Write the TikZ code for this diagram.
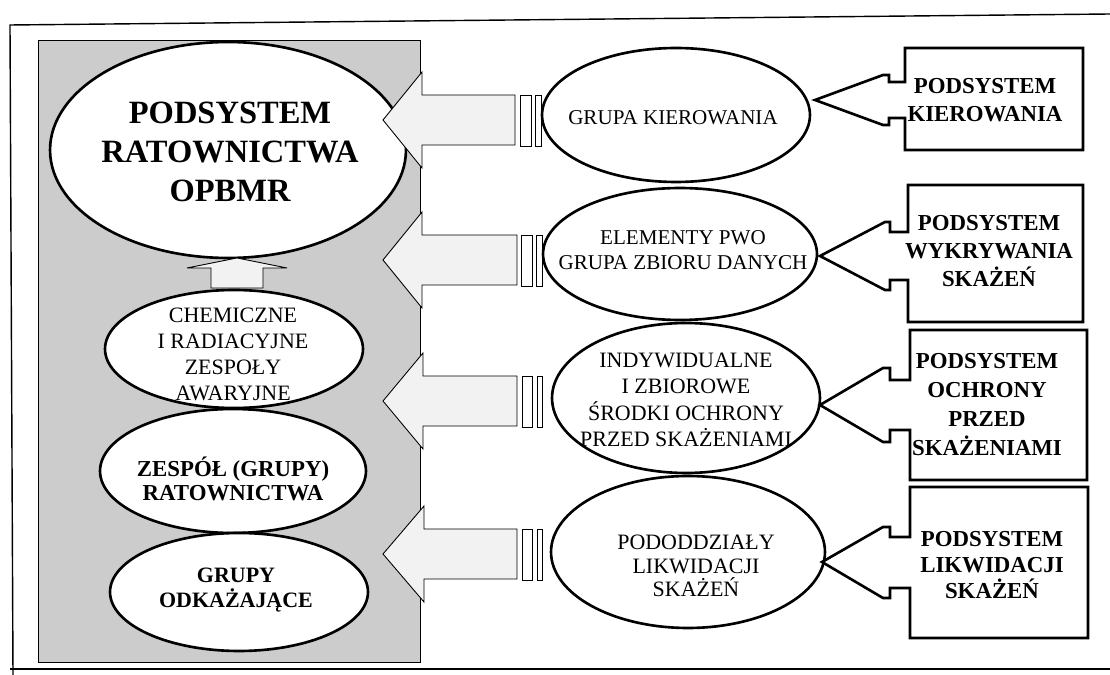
\documentclass[tikz,border=0pt]{standalone}
\usepackage{fontspec}
\setmainfont{Liberation Serif}

\tikzset{
  oval/.style={line width=1.5pt,fill=white},
  bigarr/.style={line width=0.5pt,fill=black!5},
  bar/.style={line width=0.5pt,fill=white},
  boxarr/.style={line width=1.5pt,fill=white,line join=miter},
  lab/.style={align=center,inner sep=0pt,font=\fontsize{12}{14.5}\selectfont},
  blab/.style={align=center,inner sep=0pt,font=\bfseries\fontsize{13}{16}\selectfont},
}

\begin{document}
\begin{tikzpicture}[x=0.02cm,y=-0.02cm]
\useasboundingbox (0,0) rectangle (1110,675);
% frame and gray panel
\draw[line width=0.8pt] (1110,14) -- (10,25) -- (13,675);
\draw[line width=1pt] (10,669) -- (1110,669);
\draw[line width=0.5pt,fill=black!20] (38,40) rectangle (420,662);

% left column
\draw[oval] (228,150) ellipse (3.56cm and 2.16cm);
\node[align=center,inner sep=0pt,font=\bfseries\fontsize{18.5}{22}\selectfont] (ratown) at (230,152) {PODSYSTEM\\RATOWNICTWA\\OPBMR};
\draw[bigarr] (237,258) -- (287,268) -- (263,268) -- (263,288) -- (211,288) -- (211,268) -- (187,268) -- cycle;
\draw[oval] (234,349) ellipse (2.58cm and 1.18cm);
\node[lab,font=\fontsize{12.5}{14.8}\selectfont] (chem) at (233,354) {CHEMICZNE\\I RADIACYJNE\\ZESPOŁY\\AWARYJNE};
\draw[oval] (233,471) ellipse (2.66cm and 1.24cm);
\node[blab,font=\bfseries\fontsize{13}{13.8}\selectfont] (zesp) at (233,479) {ZESPÓŁ (GRUPY)\\RATOWNICTWA};
\draw[oval] (239,592) ellipse (2.58cm and 1.18cm);
\node[blab,font=\bfseries\fontsize{12.5}{14}\selectfont] (odkaz) at (236,590) {GRUPY\\ODKAŻAJĄCE};

% big arrows into the panel
\draw[bigarr] (383,120) -- (422,72) -- (422,95) -- (515,95) -- (515,145) -- (422,145) -- (422,168) -- cycle;
\draw[bar] (520,95) rectangle (531,146); \draw[bar] (535,95) rectangle (541,146);
\draw[bigarr] (383,260) -- (422,212) -- (422,235) -- (517,235) -- (517,285) -- (422,285) -- (422,308) -- cycle;
\draw[bar] (521,235) rectangle (532,286); \draw[bar] (536,235) rectangle (542,286);
\draw[bigarr] (383,401) -- (423,353) -- (423,376) -- (517,376) -- (517,426) -- (423,426) -- (423,449) -- cycle;
\draw[bar] (522,376) rectangle (532,427); \draw[bar] (537,376) rectangle (542,427);
\draw[bigarr] (383,554) -- (424,506) -- (424,529) -- (517,529) -- (517,579) -- (424,579) -- (424,602) -- cycle;
\draw[bar] (522,529) rectangle (532,580); \draw[bar] (537,529) rectangle (542,580);

% middle column
\draw[oval] (676,115) ellipse (2.68cm and 1.34cm);
\node[lab] (gkier) at (673,118) {GRUPA KIEROWANIA};
\draw[oval] (680,254) ellipse (2.74cm and 1.32cm);
\node[lab] (pwo) at (683,250) {ELEMENTY PWO\\GRUPA ZBIORU DANYCH};
\draw[oval] (686,398) ellipse (2.68cm and 1.5cm);
\node[lab,font=\fontsize{12.5}{15}\selectfont] (srodki) at (686,400) {INDYWIDUALNE\\I ZBIOROWE\\ŚRODKI OCHRONY\\PRZED SKAŻENIAMI};
\draw[oval] (688,552) ellipse (2.74cm and 1.52cm);
\node[lab,font=\fontsize{12.5}{13.5}\selectfont] (pododz) at (696,566) {PODODDZIAŁY\\LIKWIDACJI\\SKAŻEŃ};

% right column: boxes with arrows
\draw[boxarr] (905,82) -- (889,82) -- (889,75) -- (883,75) -- (815,100) -- (883,125) -- (889,125) -- (889,118) -- (905,118)
  -- (905,150) -- (1083,150) -- (1083,48) -- (905,48) -- cycle;
\node[blab] (pkier) at (985,100) {PODSYSTEM\\KIEROWANIA};
\draw[boxarr] (908,232) -- (890,232) -- (890,222) -- (885,222) -- (820,256) -- (885,290) -- (890,290) -- (890,280) -- (908,280)
  -- (908,322) -- (1083,322) -- (1083,185) -- (908,185) -- cycle;
\node[blab] (pwykr) at (989,251) {PODSYSTEM\\WYKRYWANIA\\SKAŻEŃ};
\draw[boxarr] (910,380) -- (890,380) -- (890,368) -- (883,368) -- (820,405) -- (883,442) -- (890,442) -- (890,430) -- (910,430)
  -- (910,480) -- (1087,480) -- (1087,330) -- (910,330) -- cycle;
\node[blab,font=\bfseries\fontsize{13}{16.5}\selectfont] (pochr) at (987,405) {PODSYSTEM\\OCHRONY\\PRZED\\SKAŻENIAMI};
\draw[boxarr] (910,537) -- (890,537) -- (890,527) -- (883,527) -- (822,562) -- (883,598) -- (890,598) -- (890,588) -- (910,588)
  -- (910,638) -- (1088,638) -- (1088,487) -- (910,487) -- cycle;
\node[blab,font=\bfseries\fontsize{13}{15}\selectfont] (plikw) at (992,565) {PODSYSTEM\\LIKWIDACJI\\SKAŻEŃ};
\end{tikzpicture}
\end{document}
